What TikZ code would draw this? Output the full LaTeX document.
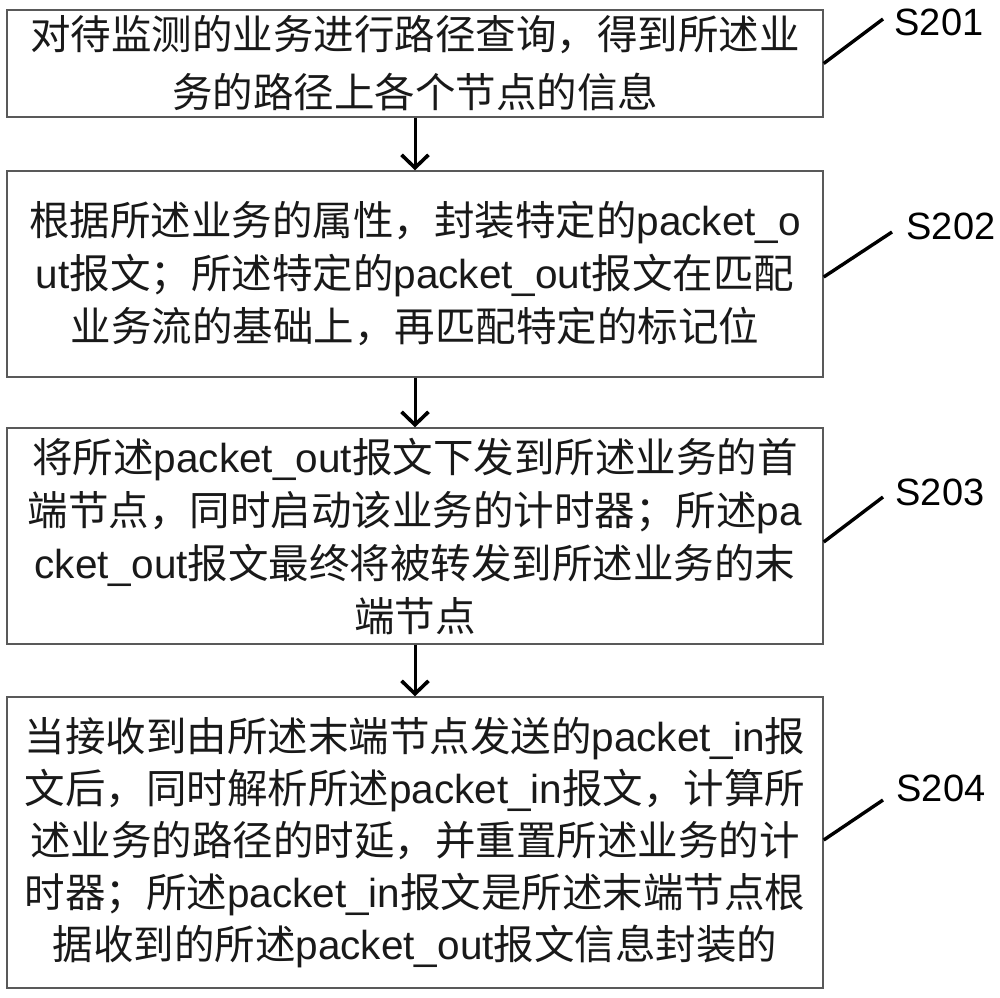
\documentclass[tikz,border=0pt]{standalone}
\usepackage{fontspec}
\setmainfont{Noto Sans CJK SC}
\newfontfamily\lat[Scale=1.0]{Liberation Sans}
\newfontfamily\labfont{Liberation Sans}
\usetikzlibrary{arrows.meta}
\newcommand{\pk}[1]{{\lat #1}}
\begin{document}
\begin{tikzpicture}[x=1pt,y=1pt,
  stepbox/.style={draw=black!65, line width=1.4pt, minimum width=816pt, align=center, inner sep=0pt, text=black!90},
  flow/.style={line width=3pt, -{Straight Barb[length=13pt,width=27pt,line width=3.6pt]}},
  leader/.style={line width=3.4pt, black},
  steplabel/.style={font=\labfont\fontsize{38}{40}\selectfont, inner sep=0pt}]
\useasboundingbox (0,0) rectangle (1000,-997);
\node[stepbox, minimum height=107pt, font=\fontsize{40.5}{58}\selectfont] (b1) at (415,-63.5)
  {对待监测的业务进行路径查询，得到所述业\\务的路径上各个节点的信息};
\node[stepbox, minimum height=206pt, font=\fontsize{40.5}{53}\selectfont] (b2) at (415,-274)
  {根据所述业务的属性，封装特定的\pk{packet\_o}\\\pk{ut}报文；所述特定的\pk{packet\_out}报文在匹配\\业务流的基础上，再匹配特定的标记位};
\node[stepbox, minimum height=216pt, font=\fontsize{40.5}{53}\selectfont] (b3) at (415,-536)
  {将所述\pk{packet\_out}报文下发到所述业务的首\\端节点，同时启动该业务的计时器；所述\pk{pa}\\\pk{cket\_out}报文最终将被转发到所述业务的末\\端节点};
\node[stepbox, minimum height=291pt, font=\fontsize{40.5}{52}\selectfont] (b4) at (415,-842.5)
  {当接收到由所述末端节点发送的\pk{packet\_in}报\\文后，同时解析所述\pk{packet\_in}报文，计算所\\述业务的路径的时延，并重置所述业务的计\\时器；所述\pk{packet\_in}报文是所述末端节点根\\据收到的所述\pk{packet\_out}报文信息封装的};
\draw[flow] (b1.south) -- (b2.north);
\draw[flow] (b2.south) -- (b3.north);
\draw[flow] (b3.south) -- (b4.north);
\node[steplabel] (l1) at (939,-22) {S201};
\node[steplabel] (l2) at (951,-226) {S202};
\node[steplabel] (l3) at (940,-492) {S203};
\node[steplabel] (l4) at (941,-788) {S204};
\coordinate (e1) at (883,-19);
\coordinate (e2) at (892,-232);
\coordinate (e3) at (883,-497);
\coordinate (e4) at (883,-800);
\draw[leader] (b1.east) -- (e1);
\draw[leader] ([yshift=-3pt]b2.east) -- (e2);
\draw[leader] ([yshift=-6pt]b3.east) -- (e3);
\draw[leader] ([yshift=2.5pt]b4.east) -- (e4);
\end{tikzpicture}
\end{document}
